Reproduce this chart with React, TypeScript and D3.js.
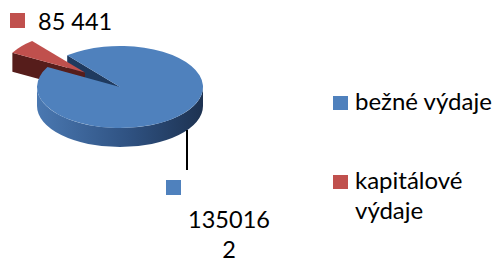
import React, { useEffect, useRef } from "react";
import * as d3 from "d3";

// data
const categories = ["bežné výdaje", "kapitálové výdaje"];
const values = [1350162, 85441];
const labelLines = [["135016", "2"], ["85 441"]];
const legendLines = [["bežné výdaje"], ["kapitálové", "výdaje"]];
const colors = ["#4F81BD", "#C0504D"];
const sideColors = ["#1f3a5f", "#561d1b"];

const W = 498;
const H = 263;
const FONT = "Lato, 'Open Sans', sans-serif";

const App = () => {
  const ref = useRef<SVGSVGElement>(null);

  useEffect(() => {
    const svg = d3.select(ref.current);
    svg.selectAll("*").remove();

    const cx = 120, cy = 87, rx = 83, ry = 41, depth = 19;
    const explode = [0, 0.55];

    // d3.pie angle 0 = 12 o'clock; screen angle theta = a - PI/2
    const start = (320.5 / 180) * Math.PI;
    const pie = d3.pie<number>().sort(null).startAngle(start).endAngle(start + 2 * Math.PI);
    const arcs = pie(values);

    const defs = svg.append("defs");
    const g = defs.append("linearGradient").attr("id", "wallBlue").attr("x1", "0").attr("x2", "1").attr("y1", "0").attr("y2", "0");
    g.append("stop").attr("offset", "0%").attr("stop-color", "#4a78b1");
    g.append("stop").attr("offset", "55%").attr("stop-color", "#2f5282");
    g.append("stop").attr("offset", "100%").attr("stop-color", "#1d3251");

    const pt = (ox: number, oy: number, t: number, dz = 0) => [ox + rx * Math.cos(t), oy + ry * Math.sin(t) + dz];

    const geom = arcs.map((a, i) => {
      const t1 = a.startAngle - Math.PI / 2;
      const t2 = a.endAngle - Math.PI / 2;
      const mid = (t1 + t2) / 2;
      return {
        t1, t2,
        ox: cx + explode[i] * rx * Math.cos(mid),
        oy: cy + explode[i] * ry * Math.sin(mid),
      };
    });

    const drawSides = (i: number) => {
      const { t1, t2, ox, oy } = geom[i];
      // outer wall, front part only (sin > 0)
      for (let k = -1; k <= 2; k++) {
        const lo = Math.max(t1, k * 2 * Math.PI);
        const hi = Math.min(t2, k * 2 * Math.PI + Math.PI);
        if (hi > lo) {
          const p1 = pt(ox, oy, lo), p2 = pt(ox, oy, hi);
          const big = hi - lo > Math.PI ? 1 : 0;
          svg.append("path")
            .attr("d", `M${p1}A${rx},${ry} 0 ${big} 1 ${p2}L${p2[0]},${p2[1] + depth}A${rx},${ry} 0 ${big} 0 ${p1[0]},${p1[1] + depth}Z`)
            .attr("fill", i === 0 ? "url(#wallBlue)" : sideColors[i]);
        }
      }
      // radial cut face at start edge (faces the viewer here)
      const r1 = pt(ox, oy, t1);
      svg.append("path")
        .attr("d", `M${ox},${oy}L${r1}L${r1[0]},${r1[1] + depth}L${ox},${oy + depth}Z`)
        .attr("fill", sideColors[i]);
    };

    const drawTop = (i: number) => {
      const { t1, t2, ox, oy } = geom[i];
      const p1 = pt(ox, oy, t1), p2 = pt(ox, oy, t2);
      const big = t2 - t1 > Math.PI ? 1 : 0;
      svg.append("path")
        .attr("d", `M${ox},${oy}L${p1}A${rx},${ry} 0 ${big} 1 ${p2}Z`)
        .attr("fill", colors[i]);
    };

    drawSides(0);
    drawSides(1);
    drawTop(1);
    drawTop(0);

    // leader line for the big slice
    svg.append("line")
      .attr("x1", 187).attr("x2", 187).attr("y1", 130).attr("y2", 170)
      .attr("stroke", "#000").attr("stroke-width", 2);

    // data labels with keys
    const labelPos = [
      { kx: 166, ky: 180, tx: 229, ty: 228, anchor: "middle", lh: 30 },
      { kx: 10, ky: 13, tx: 38, ty: 30, anchor: "start", lh: 30 },
    ];
    labelPos.forEach((p, i) => {
      svg.append("rect").attr("x", p.kx).attr("y", p.ky).attr("width", 15).attr("height", 15).attr("fill", colors[i]);
      const t = svg.append("text")
        .attr("x", p.tx).attr("y", p.ty)
        .attr("text-anchor", p.anchor)
        .attr("font-family", FONT).attr("font-size", 23.5).attr("fill", "#000");
      labelLines[i].forEach((s, j) => t.append("tspan").attr("x", p.tx).attr("dy", j === 0 ? 0 : p.lh).text(s));
    });

    // legend
    const legendY = d3.scaleOrdinal<string, number>().domain(categories).range([110, 189]);
    categories.forEach((c, i) => {
      const y = legendY(c);
      svg.append("rect").attr("x", 333).attr("y", y - 14).attr("width", 15).attr("height", 14).attr("fill", colors[i]);
      const t = svg.append("text")
        .attr("x", 355).attr("y", y)
        .attr("font-family", FONT).attr("font-size", 24).attr("fill", "#000");
      legendLines[i].forEach((s, j) => t.append("tspan").attr("x", 355).attr("dy", j === 0 ? 0 : 30).text(s));
    });
  }, []);

  return (
    <svg ref={ref} width={W} height={H} style={{ position: "absolute", left: 0, top: 0, background: "#fff" }} />
  );
};

export default App;
